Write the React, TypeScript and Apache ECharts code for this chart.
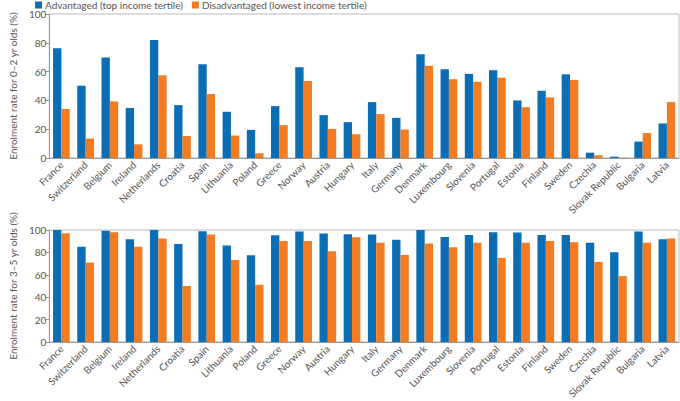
import React, { useEffect, useRef } from "react";
import * as echarts from "echarts";

const countries = [
  "France", "Switzerland", "Belgium", "Ireland", "Netherlands", "Croatia", "Spain",
  "Lithuania", "Poland", "Greece", "Norway", "Austria", "Hungary", "Italy", "Germany",
  "Denmark", "Luxembourg", "Slovenia", "Portugal", "Estonia", "Finland", "Sweden",
  "Czechia", "Slovak Republic", "Bulgaria", "Latvia",
];
const adv02 = [76.3, 50.2, 69.8, 34.7, 82, 36.7, 65.1, 32.1, 19.5, 36, 63, 29.8, 24.9, 38.8, 27.9, 72.1, 61.6, 58.4, 61, 40, 46.7, 58.1, 3.7, 0.9, 11.4, 24];
const dis02 = [34, 13.5, 39.3, 9.5, 57.4, 15.3, 44.4, 15.6, 3.3, 22.8, 53.5, 20.2, 16.5, 30.5, 19.8, 64, 54.7, 53, 55.8, 35.3, 42.1, 54.2, 1.9, 0.2, 17.4, 38.8];
const adv35 = [100, 85, 99.4, 91.8, 100, 87.6, 98.9, 86.2, 77.4, 95.2, 98.6, 96.9, 96.3, 96, 91.2, 100, 93.8, 95.5, 98, 97.7, 95.5, 95.5, 88.7, 80.2, 98.6, 91.8];
const dis35 = [97.2, 70.9, 98, 85, 92.4, 50, 96, 73.2, 51.1, 90.1, 90.1, 81, 93.5, 88.7, 77.7, 87.9, 84.7, 88.7, 75.1, 88.7, 90.1, 89, 71.5, 58.8, 88.7, 92.4];
const yTicks = { min: 0, max: 100, interval: 20 };
const seriesNames = ["Advantaged (top income tertile)", "Disadvantaged (lowest income tertile)"];
const axisNames = ["Enrolment rate for 0–2 yr olds (%)", "Enrolment rate for 3–5 yr olds (%)"];

const BLUE = "#0b6db3";
const ORANGE = "#f37b21";
const FONT = "Lato";
const TXT = "#555";

export default function App() {
  const ref = useRef<HTMLDivElement>(null);
  useEffect(() => {
    document.body.style.margin = "0";
    const chart = echarts.init(ref.current!, null, { renderer: "svg" });
    const xAxis = (gridIndex: number) => ({
      type: "category",
      gridIndex,
      data: countries,
      axisLine: { lineStyle: { color: "#999" } },
      axisTick: { alignWithLabel: true, length: 4, lineStyle: { color: "#999" } },
      axisLabel: { rotate: 45, interval: 0, fontSize: 10, color: TXT, fontFamily: FONT, margin: 5 },
    });
    const yAxis = (gridIndex: number) => ({
      type: "value",
      gridIndex,
      ...yTicks,
      name: axisNames[gridIndex],
      nameLocation: "middle",
      nameGap: 24,
      nameTextStyle: { fontSize: 10, color: TXT, fontFamily: FONT },
      axisLine: { show: true, lineStyle: { color: "#999" } },
      axisTick: { show: true, length: 4, lineStyle: { color: "#999" } },
      axisLabel: { fontSize: 10, color: TXT, fontFamily: FONT, margin: 3 },
      splitLine: { show: false },
    });
    const bar = (name: string, data: number[], idx: number, color: string) => ({
      type: "bar",
      name,
      data,
      xAxisIndex: idx,
      yAxisIndex: idx,
      itemStyle: { color },
      barGap: "0%",
      barCategoryGap: "31%",
    });
    chart.setOption({
      animation: false,
      textStyle: { fontFamily: FONT },
      legend: {
        data: seriesNames,
        top: 0,
        left: 35,
        itemWidth: 7,
        itemHeight: 7,
        itemGap: 9,
        icon: "rect",
        textStyle: { fontSize: 10, color: TXT, fontFamily: FONT, padding: [0, 0, 0, -2] },
        padding: 0,
      },
      grid: [
        { left: 34, right: 1, top: 14, height: 144, show: true, borderColor: "#bbb", borderWidth: 1 },
        { left: 34, right: 1, top: 230, height: 118, show: true, borderColor: "#bbb", borderWidth: 1 },
      ],
      xAxis: [xAxis(0), xAxis(1)],
      yAxis: [yAxis(0), yAxis(1)],
      series: [
        bar(seriesNames[0], adv02, 0, BLUE),
        bar(seriesNames[1], dis02, 0, ORANGE),
        bar(seriesNames[0], adv35, 1, BLUE),
        bar(seriesNames[1], dis35, 1, ORANGE),
      ],
    });
    return () => chart.dispose();
  }, []);
  return <div ref={ref} style={{ width: 680, height: 401, position: "absolute", left: 0, top: 0 }} />;
}
